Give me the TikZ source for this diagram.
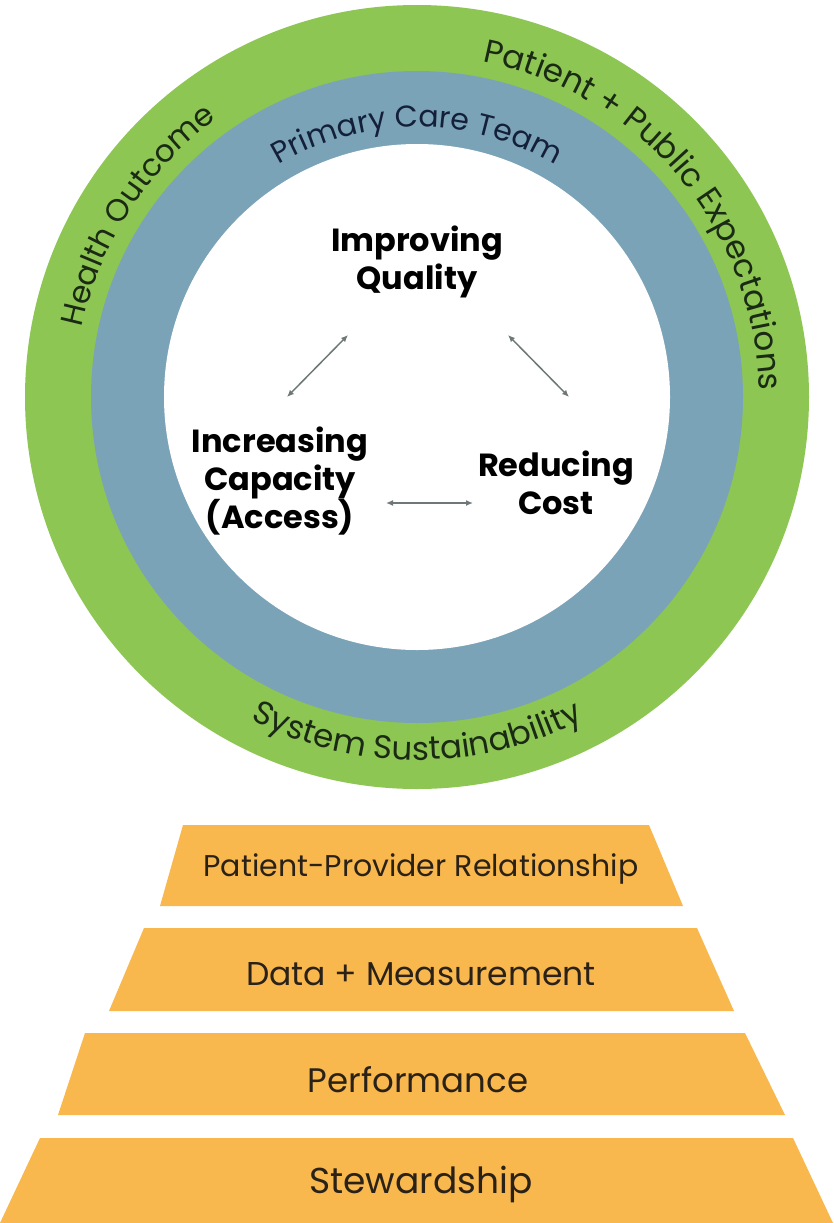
\documentclass[tikz,border=0pt]{standalone}
\usepackage{fontspec}
\setmainfont{Poppins}
\usetikzlibrary{arrows.meta,decorations.text,calc}
\definecolor{ringgreen}{HTML}{8DC653}
\definecolor{ringblue}{HTML}{7AA3B8}
\definecolor{pyr}{HTML}{F8B84E}
\definecolor{gtext}{HTML}{1A2A14}
\definecolor{btext}{HTML}{14203A}
\definecolor{arr}{HTML}{6F7878}
\definecolor{tiertext}{HTML}{2A2218}
\newcommand\greenringfont{\fontsize{31}{31}\selectfont\color{gtext}}
\newcommand\greenringfontb{\fontsize{32.5}{32}\selectfont\color{gtext}}
\newcommand\blueringfont{\fontsize{30}{30}\selectfont\color{btext}}
\begin{document}
\begin{tikzpicture}[x=1pt,y=1pt,
  goal/.style={font=\fontsize{32}{38}\selectfont\bfseries, align=center, text=black, inner sep=0pt},
  tier/.style={font=\fontsize{30}{30}\selectfont, text=tiertext, anchor=base, inner sep=0pt},
  tierbox/.style={fill=pyr},
  link/.style={draw=arr, line width=1.5pt, {Latex[length=7pt,width=6pt]}-{Latex[length=7pt,width=6pt]}}]
\useasboundingbox (0,0) rectangle (833,-1223);
\fill[white] (0,0) rectangle (833,-1223);
\coordinate (C) at (417,-397);
% rings
\fill[ringgreen] (C) circle[radius=392];
\fill[ringblue] (C) circle[radius=326];
\fill[white] (C) circle[radius=253];
% ring labels
\path[decorate, decoration={text along path, text align=center,
  text={|\greenringfont|Health Outcome}}]
  ($(C)+(197:342)$) arc[start angle=197, end angle=97, radius=342];
\path[decorate, decoration={text along path, text align=center,
  text={|\greenringfontb|Patient + Public Expectations}}]
  ($(C)+(100:342)$) arc[start angle=100, end angle=-20, radius=342];
\path[decorate, decoration={text along path, text align=center,
  text={|\blueringfont|Primary Care Team}}]
  ($(C)+(150:270)$) arc[start angle=150, end angle=30, radius=270];
\path[decorate, decoration={text along path, text align=center,
  text={|\greenringfontb|System Sustainability}}]
  ($(C)+(215:363)$) arc[start angle=215, end angle=325, radius=363];
% goals
\node[goal] (quality) at (417,-262) {Improving\\Quality};
\node[goal] (capacity) at (280,-481) {Increasing\\Capacity\\(Access)};
\node[goal] (cost) at (556,-483) {Reducing\\Cost};
\coordinate (q-left) at (348,-335);
\coordinate (c-up) at (287,-397);
\coordinate (q-right) at (508,-335);
\coordinate (r-up) at (569,-397);
\coordinate (c-right) at (386,-503);
\coordinate (r-left) at (473,-503);
\draw[link] (c-up) -- (q-left);
\draw[link] (q-right) -- (r-up);
\draw[link] (c-right) -- (r-left);
% pyramid
\fill[tierbox] (183,-825) -- (649,-825) -- (683,-906) -- (160,-906) -- cycle;
\fill[tierbox] (144,-928) -- (697,-928) -- (734,-1011) -- (109,-1011) -- cycle;
\fill[tierbox] (85,-1033) -- (745,-1033) -- (785,-1115) -- (58,-1115) -- cycle;
\fill[tierbox] (40,-1138) -- (793,-1138) -- (833,-1223) -- (0,-1223) -- cycle;
\node[tier] (t1) at (421,-876) {Patient-Provider Relationship};
\node[tier, font=\fontsize{33}{33}\selectfont] (t2) at (421,-985) {Data + Measurement};
\node[tier, font=\fontsize{34}{34}\selectfont] (t3) at (418,-1092) {Performance};
\node[tier, font=\fontsize{36}{36}\selectfont] (t4) at (421,-1193) {Stewardship};
\end{tikzpicture}
\end{document}
